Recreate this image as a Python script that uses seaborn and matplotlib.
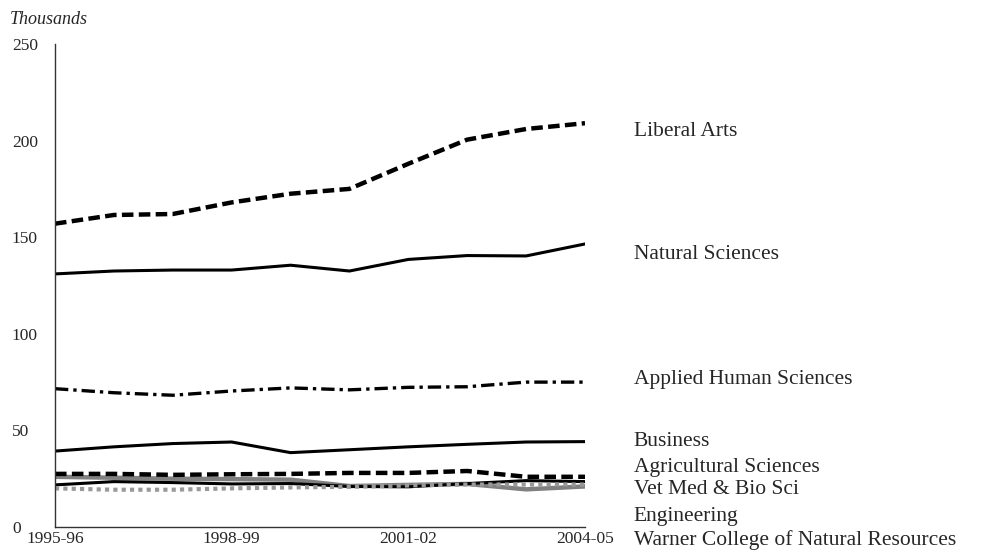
import matplotlib
matplotlib.use("Agg")
import matplotlib.pyplot as plt
import seaborn as sns
import pandas as pd

# academic years on the x axis
years = ["1995-96", "1996-97", "1997-98", "1998-99", "1999-00",
         "2000-01", "2001-02", "2002-03", "2003-04", "2004-05"]
shown_years = ["1995-96", "1998-99", "2001-02", "2004-05"]

# values in thousands
liberal_arts = [157, 161.5, 162, 168, 172.5, 175, 188, 200.5, 206, 209]
natural_sciences = [131, 132.5, 133, 133, 135.5, 132.5, 138.5, 140.5, 140.3, 146.5]
applied_human = [71.6, 69.5, 68.2, 70.4, 72, 71, 72.3, 72.6, 75, 75]
business = [39.3, 41.5, 43.2, 44, 38.5, 40, 41.5, 42.8, 44, 44.2]
agricultural = [27.5, 27.5, 27, 27.3, 27.5, 28, 28, 29, 26, 26]
vet_med = [21.8, 23.5, 23, 22.3, 22.5, 21, 20.8, 22.5, 24, 23.5]
engineering = [26, 25.5, 25, 24.8, 24.5, 21.2, 21.8, 22.3, 19.5, 21]
warner = [20, 19.3, 19.3, 20, 20.5, 20.8, 21.5, 22, 22, 22]

names = ["Liberal Arts", "Natural Sciences", "Applied Human Sciences", "Business",
         "Agricultural Sciences", "Vet Med & Bio Sci", "Engineering",
         "Warner College of Natural Resources"]
series = [liberal_arts, natural_sciences, applied_human, business,
          agricultural, vet_med, engineering, warner]

# label positions (data units) for the right-hand text
label_y = [204.5, 140.8, 76.6, 44.5, 31, 19.2, 5.7, -6.7]

styles = {
    "Liberal Arts": dict(color="black", lw=3.2, dashes=(2.6, 1.2)),
    "Natural Sciences": dict(color="black", lw=2.2, dashes=None),
    "Applied Human Sciences": dict(color="black", lw=2.4, dashes=(4, 1.5, 1, 1.5)),
    "Business": dict(color="black", lw=2.2, dashes=None),
    "Agricultural Sciences": dict(color="black", lw=3.2, dashes=(2.6, 1.2)),
    "Engineering": dict(color="#808080", lw=3.2, dashes=None),
    "Vet Med & Bio Sci": dict(color="black", lw=2.2, dashes=None),
    "Warner College of Natural Resources": dict(color="#999999", lw=3.0, dashes=(1, 1)),
}
draw_order = ["Liberal Arts", "Natural Sciences", "Applied Human Sciences", "Business",
              "Engineering", "Vet Med & Bio Sci", "Warner College of Natural Resources",
              "Agricultural Sciences"]

df = pd.DataFrame({"year": list(range(len(years))) * len(names),
                   "college": [n for n in names for _ in years],
                   "value": [v for s in series for v in s]})

sns.set_style("white")
plt.rcParams["font.family"] = ["Liberation Serif", "DejaVu Serif"]

fig = plt.figure(figsize=(9.89, 5.54), dpi=100)
ax = fig.add_axes([0.0556, 0.0487, 0.5359, 0.8719])

for name in draw_order:
    st = styles[name]
    sub = df[df["college"] == name]
    sns.lineplot(data=sub, x="year", y="value", ax=ax, color=st["color"],
                 linewidth=st["lw"], legend=False)
    line = ax.lines[-1]
    if st["dashes"]:
        line.set_dashes(st["dashes"])
        line.set_dash_capstyle("butt")

ax.set_xlim(0, len(years) - 1)
ax.set_ylim(0, 250)
ax.set_xticks([years.index(y) for y in shown_years])
ax.set_xticklabels(shown_years, fontsize=12.5)
ax.set_yticks(range(0, 251, 50))
ax.tick_params(axis="y", labelsize=12.5, length=0, pad=31)
ax.tick_params(axis="x", length=0, pad=3)
for lbl in ax.get_yticklabels():
    lbl.set_horizontalalignment("left")
ax.set_xlabel("")
ax.set_ylabel("")
for side in ["top", "right"]:
    ax.spines[side].set_visible(False)
for side in ["left", "bottom"]:
    ax.spines[side].set_color("#333333")
    ax.spines[side].set_linewidth(1.0)

fig.text(0.010, 0.965, "Thousands", fontsize=13, style="italic", va="center")

for name, y in zip(names, label_y):
    ax.text(1.092, y, name, transform=ax.get_yaxis_transform(), fontsize=15.5,
            va="center", ha="left", clip_on=False)

fig.savefig("out.png", dpi=100)
